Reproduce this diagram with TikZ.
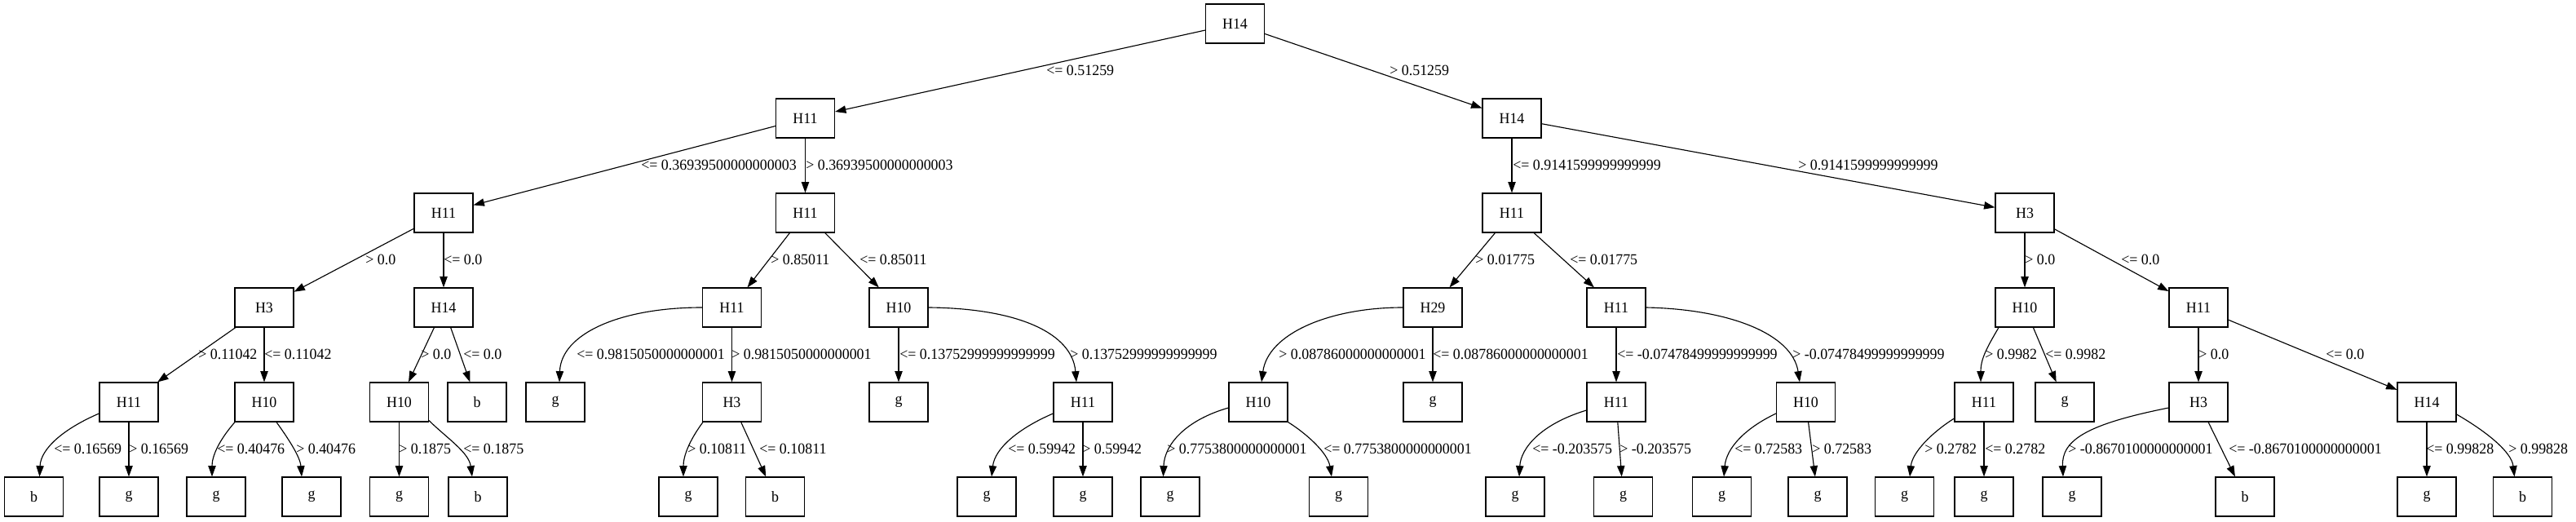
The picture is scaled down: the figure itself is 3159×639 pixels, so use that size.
\documentclass[tikz,border=0pt]{standalone}
\usepackage{fontspec}
\setmainfont{Liberation Serif}[FakeStretch=0.96]
\usetikzlibrary{arrows.meta,calc}
\begin{document}
\begin{tikzpicture}[x=0.75pt,y=-0.75pt,
  box/.style={draw,line width=0.85pt,minimum width=54pt,minimum height=36pt,inner sep=0pt,font=\fontsize{14pt}{16pt}\selectfont},
  edge/.style={line width=0.85pt,-{Triangle[length=10pt,width=7pt]}},
  lbl/.style={anchor=west,inner sep=0pt,font=\fontsize{14pt}{16pt}\selectfont}]
\useasboundingbox (0,0) rectangle (3159,639);
% level 0
\node[box] (n0) at (1514.5,29) {H14};
% level 1
\node[box] (n1) at (987.5,145) {H11};
\node[box] (n2) at (1854,145) {H14};
% level 2
\node[box] (n3) at (544,261) {H11};
\node[box] (n4) at (987.5,261) {H11};
\node[box] (n5) at (1854,261) {H11};
\node[box] (n6) at (2483,261) {H3};
% level 3
\node[box] (n7) at (324,377) {H3};
\node[box] (n8) at (544,377) {H14};
\node[box] (n9) at (897.5,377) {H11};
\node[box] (n10) at (1102,377) {H10};
\node[box] (n11) at (1757,377) {H29};
\node[box] (n12) at (1982,377) {H11};
\node[box] (n13) at (2483,377) {H10};
\node[box] (n14) at (2696,377) {H11};
% level 4
\node[box] (n15) at (158,493) {H11};
\node[box] (n16) at (324,493) {H10};
\node[box] (n17) at (489.5,493) {H10};
\node[box] (n18) at (585,493) {b};
\node[box] (n19) at (681,493) {g};
\node[box] (n20) at (897.5,493) {H3};
\node[box] (n21) at (1102,493) {g};
\node[box] (n22) at (1328,493) {H11};
\node[box] (n23) at (1543,493) {H10};
\node[box] (n24) at (1757,493) {g};
\node[box] (n25) at (1982,493) {H11};
\node[box] (n26) at (2214.5,493) {H10};
\node[box] (n27) at (2433,493) {H11};
\node[box] (n28) at (2532,493) {g};
\node[box] (n29) at (2696,493) {H3};
\node[box] (n30) at (2976,493) {H14};
% level 5
\node[box] (n31) at (41.5,609) {b};
\node[box] (n32) at (158,609) {g};
\node[box] (n33) at (265,609) {g};
\node[box] (n34) at (382,609) {g};
\node[box] (n35) at (489.5,609) {g};
\node[box] (n36) at (586,609) {b};
\node[box] (n37) at (844,609) {g};
\node[box] (n38) at (950.5,609) {b};
\node[box] (n39) at (1210,609) {g};
\node[box] (n40) at (1328,609) {g};
\node[box] (n41) at (1435,609) {g};
\node[box] (n42) at (1641.5,609) {g};
\node[box] (n43) at (1858,609) {g};
\node[box] (n44) at (1990.5,609) {g};
\node[box] (n45) at (2111.5,609) {g};
\node[box] (n46) at (2229,609) {g};
\node[box] (n47) at (2335.5,609) {g};
\node[box] (n48) at (2433,609) {g};
\node[box] (n49) at (2541,609) {g};
\node[box] (n50) at (2753,609) {b};
\node[box] (n51) at (2976,609) {g};
\node[box] (n52) at (3093.5,609) {b};
% edges L0-L1
\draw[edge] (n0) -- (n1);
\draw[edge] (n0) -- (n2);
% L1-L2
\draw[edge] (n1) -- (n3);
\draw[edge] (n1) -- (n4);
\draw[edge] (n2) -- (n5);
\draw[edge] (n2) -- (n6);
% L2-L3
\draw[edge] (n3) -- (n7);
\draw[edge] (n3) -- (n8);
\draw[edge] (n4) -- (n9);
\draw[edge] (n4) -- (n10);
\draw[edge] (n5) -- (n11);
\draw[edge] (n5) -- (n12);
\draw[edge] (n6) -- (n13);
\draw[edge] (n6) -- (n14);
% L3-L4
\draw[edge] (n7) -- (n15);
\draw[edge] (n7) -- (n16);
\draw[edge] (n8) -- (n17);
\draw[edge] (n8) -- (n18);
\draw[edge] (n9.west) .. controls +(-101,0) and +(2,-59) .. ($(n19.north)+(5,0)$);
\draw[edge] (n9) -- (n20);
\draw[edge] (n10) -- (n21);
\draw[edge] (n10.east) .. controls +(112,1) and +(-5,-59) .. ($(n22.north)+(-8,0)$);
\draw[edge] (n11.west) .. controls +(-91,0) and +(8,-59) .. ($(n23.north)+(4,0)$);
\draw[edge] (n11) -- (n24);
\draw[edge] (n12) -- (n25);
\draw[edge] (n12.east) .. controls +(102,2) and +(-9,-59) .. ($(n26.north)+(-7.5,0)$);
\draw[edge] ($(n13.south)+(-32,0)$) .. controls +(-14,24) and +(0,-29) .. ($(n27.north)+(-4,0)$);
\draw[edge] (n13) -- (n28);
\draw[edge] (n14) -- (n29);
\draw[edge] (n14) -- (n30);
% L4-L5
\draw[edge] ($(n15.west)+(0,14)$) .. controls +(-42,18) and +(1.5,-35) .. ($(n31.north)+(7,0)$);
\draw[edge] (n15) -- (n32);
\draw[edge] ($(n16.south)+(-36,0)$) .. controls +(-20,23) and +(0,-25) .. ($(n33.north)+(-5,0)$);
\draw[edge] ($(n16.south)+(15,0)$) .. controls +(13,18) and +(-2,-25) .. ($(n34.north)+(-12,0)$);
\draw[edge] (n17) -- (n35);
\draw[edge] ($(n17.south east)+(0,-2)$) .. controls +(20,20) and +(-4,-30) .. ($(n36.north)+(-7,0)$);
\draw[edge] ($(n20.south)+(-35.5,0)$) .. controls +(-17,23) and +(0,-25) .. ($(n37.north)+(-6,0)$);
\draw[edge] (n20) -- (n38);
\draw[edge] ($(n22.west)+(0,14)$) .. controls +(-42,18) and +(4,-35) .. ($(n39.north)+(6,0)$);
\draw[edge] (n22) -- (n40);
\draw[edge] ($(n23.west)+(0,7)$) .. controls +(-52,15) and +(1.5,-40) .. ($(n41.north)+(-8.5,0)$);
\draw[edge] (n23.south east) .. controls +(21,13) and +(-5,-30) .. ($(n42.north)+(-8.5,0)$);
\draw[edge] ($(n25.west)+(0,10)$) .. controls +(-56,17) and +(2,-35) .. ($(n43.north)+(5,0)$);
\draw[edge] (n25) -- (n44);
\draw[edge] ($(n26.west)+(0,14)$) .. controls +(-38,18) and +(3,-35) .. ($(n45.north)+(2.5,0)$);
\draw[edge] (n26) -- (n46);
\draw[edge] ($(n27.west)+(0,20)$) .. controls +(-27,17) and +(3,-30) .. ($(n47.north)+(6.5,0)$);
\draw[edge] (n27) -- (n48);
\draw[edge] ($(n29.west)+(0,7)$) .. controls +(-100,20) and +(-2,-45) .. ($(n49.north)+(-11,0)$);
\draw[edge] (n29) -- (n50);
\draw[edge] (n30) -- (n51);
\draw[edge] ($(n30.east)+(0,15)$) .. controls +(38,22) and +(-3.5,-30) .. ($(n52.north)+(-10,0)$);
% labels L0-L1
\node[lbl] (t1) at (1283,86.5) {<= 0.51259};
\node[lbl] (t2) at (1704,86.5) {> 0.51259};
% L1-L2
\node[lbl] (t3) at (786,202.5) {<= 0.36939500000000003};
\node[lbl] (t4) at (988,202.5) {> 0.36939500000000003};
\node[lbl] (t5) at (1855,202.5) {<= 0.9141599999999999};
\node[lbl] (t6) at (2205,202.5) {> 0.9141599999999999};
% L2-L3
\node[lbl] (t7) at (448,318.5) {> 0.0};
\node[lbl] (t8) at (544,318.5) {<= 0.0};
\node[lbl] (t9) at (945,318.5) {> 0.85011};
\node[lbl] (t10) at (1054,318.5) {<= 0.85011};
\node[lbl] (t11) at (1809,318.5) {> 0.01775};
\node[lbl] (t12) at (1925,318.5) {<= 0.01775};
\node[lbl] (t13) at (2483,318.5) {> 0.0};
\node[lbl] (t14) at (2601,318.5) {<= 0.0};
% L3-L4
\node[lbl] (t15) at (243,434.5) {> 0.11042};
\node[lbl] (t16) at (324,434.5) {<= 0.11042};
\node[lbl] (t17) at (516,434.5) {> 0.0};
\node[lbl] (t18) at (568,434.5) {<= 0.0};
\node[lbl] (t19) at (707,434.5) {<= 0.9815050000000001};
\node[lbl] (t20) at (897,434.5) {> 0.9815050000000001};
\node[lbl] (t21) at (1103,434.5) {<= 0.13752999999999999};
\node[lbl] (t22) at (1312,434.5) {> 0.13752999999999999};
\node[lbl] (t23) at (1568,434.5) {> 0.08786000000000001};
\node[lbl] (t24) at (1757,434.5) {<= 0.08786000000000001};
\node[lbl] (t25) at (1983,434.5) {<= -0.07478499999999999};
\node[lbl] (t26) at (2198,434.5) {> -0.07478499999999999};
\node[lbl] (t27) at (2434,434.5) {> 0.9982};
\node[lbl] (t28) at (2508,434.5) {<= 0.9982};
\node[lbl] (t29) at (2696,434.5) {> 0.0};
\node[lbl] (t30) at (2852,434.5) {<= 0.0};
% L4-L5
\node[lbl] (t31) at (66,550.5) {<= 0.16569};
\node[lbl] (t32) at (158,550.5) {> 0.16569};
\node[lbl] (t33) at (266,550.5) {<= 0.40476};
\node[lbl] (t34) at (363,550.5) {> 0.40476};
\node[lbl] (t35) at (489,550.5) {> 0.1875};
\node[lbl] (t36) at (568,550.5) {<= 0.1875};
\node[lbl] (t37) at (843,550.5) {> 0.10811};
\node[lbl] (t38) at (931,550.5) {<= 0.10811};
\node[lbl] (t39) at (1236,550.5) {<= 0.59942};
\node[lbl] (t40) at (1327,550.5) {> 0.59942};
\node[lbl] (t41) at (1431,550.5) {> 0.7753800000000001};
\node[lbl] (t42) at (1623,550.5) {<= 0.7753800000000001};
\node[lbl] (t43) at (1879,550.5) {<= -0.203575};
\node[lbl] (t44) at (1986,550.5) {> -0.203575};
\node[lbl] (t45) at (2127,550.5) {<= 0.72583};
\node[lbl] (t46) at (2222,550.5) {> 0.72583};
\node[lbl] (t47) at (2360,550.5) {> 0.2782};
\node[lbl] (t48) at (2434,550.5) {<= 0.2782};
\node[lbl] (t49) at (2536,550.5) {> -0.8670100000000001};
\node[lbl] (t50) at (2733,550.5) {<= -0.8670100000000001};
\node[lbl] (t51) at (2975,550.5) {<= 0.99828};
\node[lbl] (t52) at (3076,550.5) {> 0.99828};
\end{tikzpicture}
\end{document}
